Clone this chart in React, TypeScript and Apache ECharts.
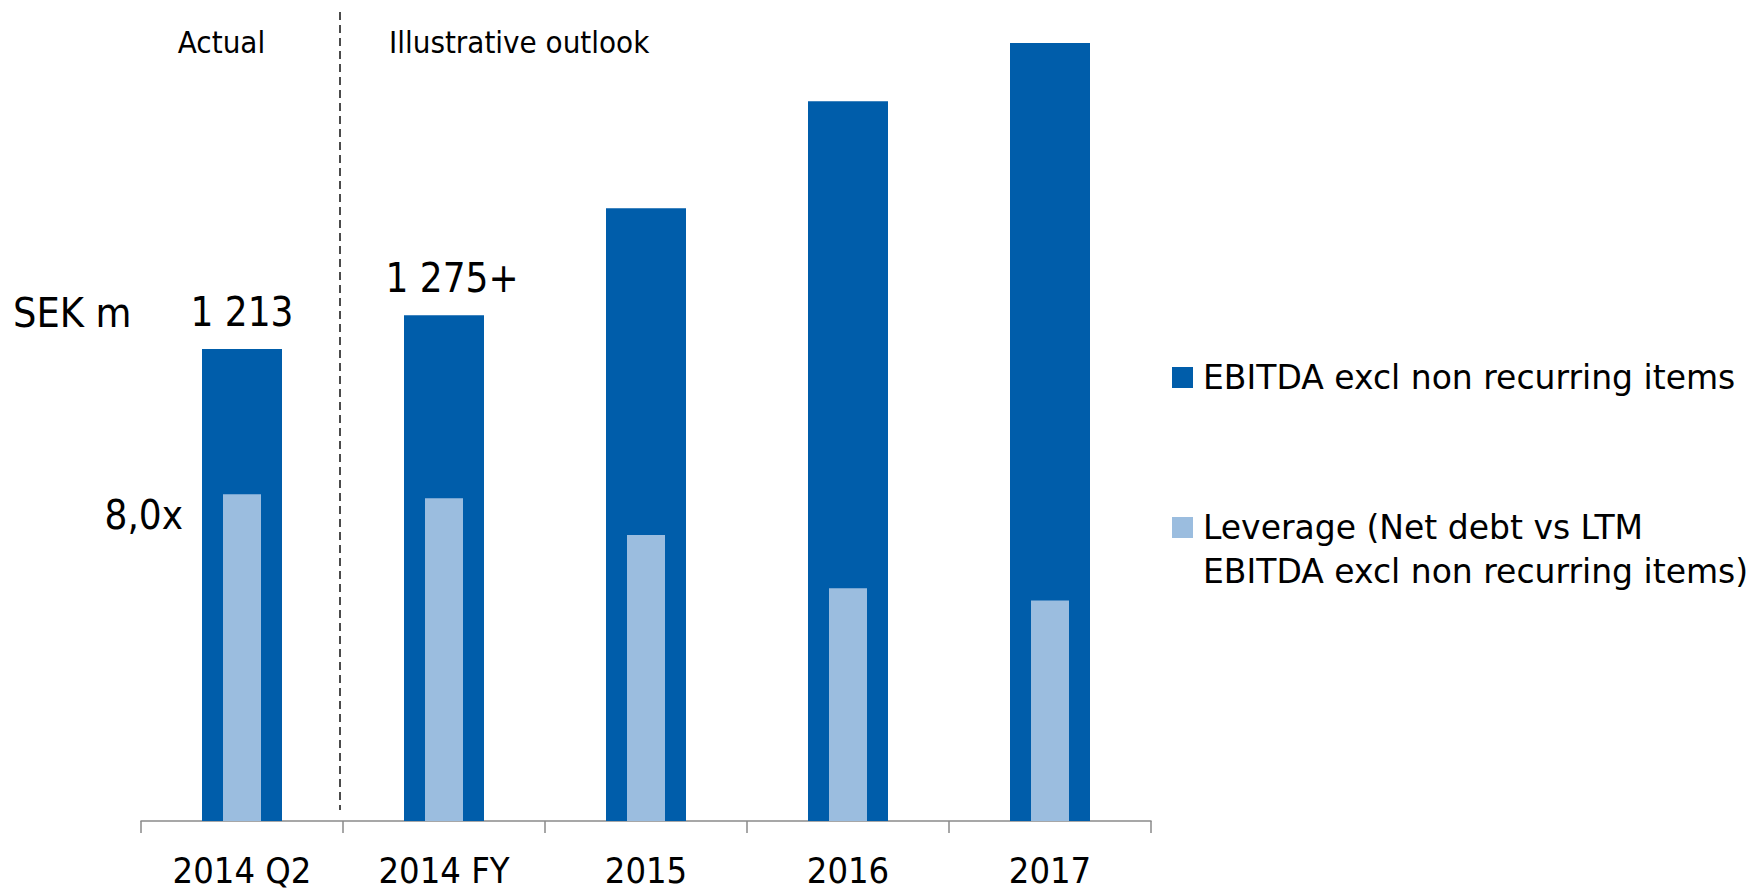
import React, { useEffect, useRef } from "react";
import * as echarts from "echarts";

const categories = ["2014 Q2", "2014 FY", "2015", "2016", "2017"];
const ebitda = [1213, 1300, 1575, 1850, 2000];
const ebitdaLabels = ["1 213", "1 275+", "", "", ""];
const leverage = [8.0, 7.9, 7.0, 5.7, 5.4];
const seriesNames = [
  "EBITDA excl non recurring items",
  "Leverage (Net debt vs LTM\nEBITDA excl non recurring items)",
];

const DARK = "#005DAA";
const LIGHT = "#9BBDDF";
const COND = "'DejaVu Sans Condensed', 'DejaVu Sans', sans-serif";
const WIDE = "'DejaVu Sans', sans-serif";

export default function App() {
  const ref = useRef<HTMLDivElement>(null);
  useEffect(() => {
    if (!ref.current) return;
    const chart = echarts.init(ref.current, undefined, { renderer: "svg" });
    const option: any = {
      animation: false,
      backgroundColor: "#ffffff",
      grid: { left: 141, right: 603, top: 4, bottom: 69 },
      xAxis: [
        {
          type: "category",
          data: categories,
          axisLine: { show: true, lineStyle: { color: "#8a8a8a", width: 1.5 } },
          axisTick: {
            show: true,
            length: 12,
            alignWithLabel: false,
            lineStyle: { color: "#8a8a8a", width: 1.5 },
          },
          axisLabel: {
            color: "#000",
            fontFamily: COND,
            fontSize: 36,
            lineHeight: 36,
            margin: 31,
          },
        },
        { type: "category", data: categories, show: false },
      ],
      yAxis: [
        { type: "value", min: 0, max: 2100, show: false },
        { type: "value", min: 0, max: 20, show: false },
      ],
      legend: [
        {
          data: [seriesNames[0]],
          left: 1172,
          top: 355.5,
          orient: "vertical",
          padding: 0,
          itemWidth: 21,
          itemHeight: 21,
          icon: "rect",
          selectedMode: false,
          textStyle: {
            fontFamily: WIDE,
            fontSize: 33,
            lineHeight: 44,
            color: "#000",
            padding: [0, 0, 0, 5],
          },
        },
        {
          data: [seriesNames[1]],
          left: 1172,
          top: 461.5,
          orient: "vertical",
          padding: 0,
          itemWidth: 21,
          itemHeight: 21,
          icon: "rect",
          selectedMode: false,
          formatter: (name: string) => " \n" + name,
          textStyle: {
            fontFamily: WIDE,
            fontSize: 33,
            lineHeight: 44,
            color: "#000",
            padding: [0, 0, 0, 5],
          },
        },
      ],
      series: [
        {
          name: seriesNames[0],
          type: "bar",
          xAxisIndex: 0,
          yAxisIndex: 0,
          barWidth: 80,
          itemStyle: { color: DARK },
          data: ebitda.map((v, i) => ({
            value: v,
            label: { offset: [i === 1 ? 8 : 0, 0] },
          })),
          label: {
            show: true,
            position: "top",
            distance: 17,
            fontFamily: COND,
            fontSize: 40,
            lineHeight: 40,
            color: "#000",
            formatter: (p: any) => ebitdaLabels[p.dataIndex],
          },
        },
        {
          name: seriesNames[1],
          type: "bar",
          xAxisIndex: 1,
          yAxisIndex: 1,
          barWidth: 38,
          itemStyle: { color: LIGHT },
          data: leverage,
        },
      ],
      graphic: [
        {
          type: "line",
          shape: { x1: 340, y1: 12, x2: 340, y2: 810 },
          style: { stroke: "#111", lineWidth: 1.5, lineDash: [8, 5] },
        },
        {
          type: "text",
          x: 221.5,
          y: 42,
          style: {
            text: "Actual",
            fontFamily: COND,
            fontSize: 31,
            fill: "#000",
            align: "center",
            verticalAlign: "middle",
          },
        },
        {
          type: "text",
          x: 389,
          y: 42,
          style: {
            text: "Illustrative outlook",
            fontFamily: COND,
            fontSize: 31,
            fill: "#000",
            align: "left",
            verticalAlign: "middle",
          },
        },
        {
          type: "text",
          x: 13,
          y: 313,
          style: {
            text: "SEK m",
            fontFamily: COND,
            fontSize: 41,
            fill: "#000",
            align: "left",
            verticalAlign: "middle",
          },
        },
        {
          type: "text",
          x: 183,
          y: 514.5,
          style: {
            text: "8,0x",
            fontFamily: COND,
            fontSize: 40,
            fill: "#000",
            align: "right",
            verticalAlign: "middle",
          },
        },
      ],
    };
    chart.setOption(option);
    return () => chart.dispose();
  }, []);
  return (
    <div
      ref={ref}
      style={{ position: "fixed", left: 0, top: 0, width: 1754, height: 890 }}
    />
  );
}
